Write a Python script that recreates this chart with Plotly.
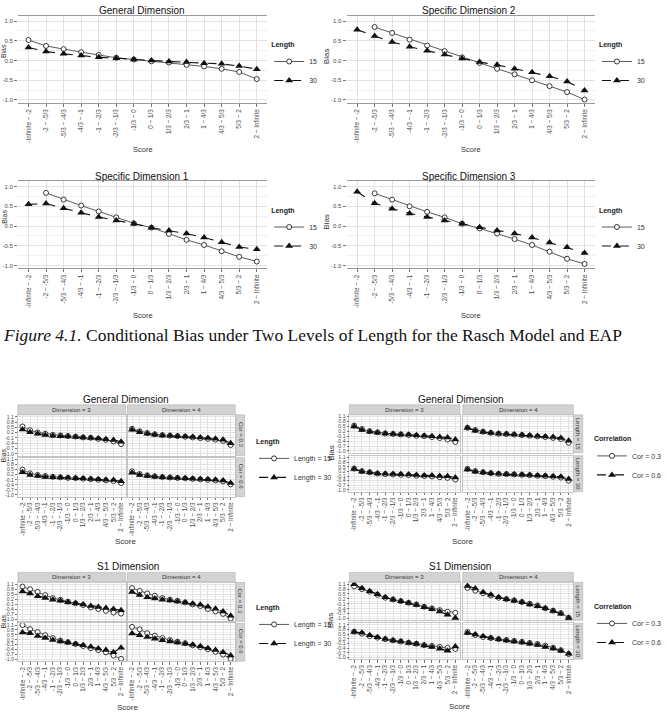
import plotly.graph_objects as go

W, H = 667, 719

CATS = ["-Infinite ~ -2", "-2 ~ -5/3", "-5/3 ~ -4/3", "-4/3 ~ -1", "-1 ~ -2/3",
        "-2/3 ~ -1/3", "-1/3 ~ 0", "0 ~ 1/3", "1/3 ~ 2/3", "2/3 ~ 1",
        "1 ~ 4/3", "4/3 ~ 5/3", "5/3 ~ 2", "2 ~ Infinite"]

# ---- Figure 4.1: Rasch model / EAP, two test lengths ----
GENERAL_L15 = [0.52, 0.37, 0.29, 0.21, 0.14, 0.07, 0.025, -0.02, -0.05, -0.11, -0.15, -0.21, -0.29, -0.47]
GENERAL_L30 = [0.33, 0.23, 0.17, 0.125, 0.08, 0.06, 0.025, 0.0, -0.025, -0.04, -0.07, -0.085, -0.14, -0.22]
SPEC2_L15 = [None, 0.85, 0.70, 0.53, 0.38, 0.24, 0.08, -0.06, -0.21, -0.35, -0.50, -0.65, -0.80, -0.99]
SPEC2_L30 = [0.78, 0.62, 0.47, 0.35, 0.245, 0.15, 0.05, -0.04, -0.11, -0.21, -0.30, -0.40, -0.53, -0.76]
SPEC1_L15 = [None, 0.84, 0.67, 0.52, 0.37, 0.22, 0.07, -0.04, -0.20, -0.35, -0.48, -0.64, -0.78, -0.90]
SPEC1_L30 = [0.55, 0.57, 0.45, 0.34, 0.23, 0.14, 0.06, -0.04, -0.11, -0.19, -0.29, -0.41, -0.53, -0.59]
SPEC3_L15 = [None, 0.83, 0.67, 0.50, 0.36, 0.22, 0.06, -0.06, -0.19, -0.33, -0.48, -0.65, -0.83, -0.96]
SPEC3_L30 = [0.87, 0.58, 0.44, 0.32, 0.23, 0.14, 0.06, -0.03, -0.11, -0.19, -0.29, -0.42, -0.54, -0.68]

# ---- faceted figures: dimension x correlation x length ----
GEN_D3_C3_L15 = [0.55, 0.34, 0.21, 0.14, 0.07, 0.04, 0.01, -0.02, -0.07, -0.09, -0.15, -0.21, -0.30, -0.45]
GEN_D3_C6_L15 = [0.50, 0.28, 0.18, 0.12, 0.07, 0.04, 0.01, -0.01, -0.04, -0.07, -0.10, -0.14, -0.18, -0.30]
GEN_D3_C3_L30 = [0.38, 0.22, 0.14, 0.06, 0.02, 0.00, -0.02, -0.04, -0.08, -0.10, -0.13, -0.18, -0.22, -0.32]
GEN_D3_C6_L30 = [0.35, 0.18, 0.12, 0.06, 0.04, 0.03, 0.01, -0.01, -0.03, -0.06, -0.07, -0.10, -0.12, -0.20]
GEN_D4_C3_L15 = [0.42, 0.28, 0.18, 0.11, 0.06, 0.03, 0.00, -0.03, -0.07, -0.11, -0.15, -0.20, -0.27, -0.50]
GEN_D4_C6_L15 = [0.40, 0.24, 0.16, 0.10, 0.05, 0.03, 0.00, -0.02, -0.05, -0.08, -0.11, -0.15, -0.20, -0.38]
GEN_D4_C3_L30 = [0.36, 0.22, 0.14, 0.08, 0.04, 0.02, 0.00, -0.02, -0.05, -0.08, -0.11, -0.15, -0.20, -0.40]
GEN_D4_C6_L30 = [0.32, 0.18, 0.12, 0.07, 0.04, 0.02, 0.00, -0.02, -0.04, -0.06, -0.08, -0.11, -0.15, -0.30]

S1_D3_C3_L15 = [0.96, 0.80, 0.64, 0.45, 0.27, 0.17, 0.06, -0.04, -0.14, -0.28, -0.38, -0.49, -0.59, -0.65]
S1_D3_C6_L15 = [1.10, 0.85, 0.67, 0.48, 0.30, 0.15, 0.05, -0.06, -0.18, -0.32, -0.43, -0.57, -0.77, -0.97]
S1_D3_C3_L30 = [0.67, 0.54, 0.38, 0.28, 0.18, 0.11, 0.03, -0.04, -0.11, -0.20, -0.26, -0.32, -0.38, -0.45]
S1_D3_C6_L30 = [0.65, 0.60, 0.43, 0.30, 0.19, 0.09, 0.03, -0.06, -0.13, -0.23, -0.33, -0.43, -0.57, -0.29]
S1_D4_C3_L15 = [0.87, 0.70, 0.55, 0.41, 0.27, 0.18, 0.11, 0.01, -0.10, -0.20, -0.38, -0.52, -0.67, -0.95]
S1_D4_C6_L15 = [0.99, 0.84, 0.60, 0.45, 0.30, 0.18, 0.08, -0.01, -0.14, -0.25, -0.38, -0.54, -0.71, -0.97]
S1_D4_C3_L30 = [0.64, 0.45, 0.32, 0.25, 0.18, 0.13, 0.07, 0.01, -0.06, -0.13, -0.24, -0.37, -0.53, -0.78]
S1_D4_C6_L30 = [0.58, 0.48, 0.37, 0.26, 0.17, 0.09, 0.03, -0.04, -0.11, -0.20, -0.32, -0.42, -0.56, -0.76]

DIMS = [3, 4]
CORS = [0.3, 0.6]
LENS = [15, 30]
GEN_DATA = {(3, 0.3, 15): GEN_D3_C3_L15, (3, 0.6, 15): GEN_D3_C6_L15,
            (3, 0.3, 30): GEN_D3_C3_L30, (3, 0.6, 30): GEN_D3_C6_L30,
            (4, 0.3, 15): GEN_D4_C3_L15, (4, 0.6, 15): GEN_D4_C6_L15,
            (4, 0.3, 30): GEN_D4_C3_L30, (4, 0.6, 30): GEN_D4_C6_L30}
S1_DATA = {(3, 0.3, 15): S1_D3_C3_L15, (3, 0.6, 15): S1_D3_C6_L15,
           (3, 0.3, 30): S1_D3_C3_L30, (3, 0.6, 30): S1_D3_C6_L30,
           (4, 0.3, 15): S1_D4_C3_L15, (4, 0.6, 15): S1_D4_C6_L15,
           (4, 0.3, 30): S1_D4_C3_L30, (4, 0.6, 30): S1_D4_C6_L30}

TOP_YTICKS = [-1.0, -0.5, 0.0, 0.5, 1.0]
FACET_YTICKS = [-1.0, -0.7, -0.4, -0.1, 0.2, 0.5, 0.8, 1.1]

fig = go.Figure()
annotations = []
shapes = []
legends = {}
counter = [0]

GRID = '#e2e2e2'
MINOR = '#f1f1f1'
TICKC = '#4a4a4a'


def new_axes(x0, x1, y0, y1, xkw, ykw):
    counter[0] += 1
    n = counter[0]
    s = '' if n == 1 else str(n)
    fig.update_layout(**{
        'xaxis' + s: dict(domain=[x0 / W, x1 / W], anchor='y' + s, **xkw),
        'yaxis' + s: dict(domain=[1 - y1 / H, 1 - y0 / H], anchor='x' + s, **ykw),
    })
    return 'x' + s, 'y' + s


def txt(x, y, s, size, angle=0, color='#222', xanchor='center', yanchor='middle', family=None):
    f = dict(size=size, color=color)
    if family:
        f['family'] = family
    annotations.append(dict(x=x / W, y=1 - y / H, xref='paper', yref='paper', text=s,
                            showarrow=False, font=f, textangle=angle,
                            xanchor=xanchor, yanchor=yanchor))


def legend_cfg(x, y, title):
    return dict(x=x / W, y=1 - y / H, xanchor='left', yanchor='top',
                bgcolor='rgba(0,0,0,0)', borderwidth=0,
                font=dict(size=7, color='#333'),
                title=dict(text='<b>%s</b>' % title, font=dict(size=7, color='#222')),
                tracegroupgap=0, itemclick=False, itemdoubleclick=False)


def add_pair(xa, ya, v1, v2, n1, n2, leg, show, msize):
    fig.add_trace(go.Scatter(
        x=CATS, y=v1, mode='lines+markers', name=n1, xaxis=xa, yaxis=ya,
        legend=leg, showlegend=show, connectgaps=False,
        line=dict(color='#5a5a5a', width=1),
        marker=dict(symbol='circle', size=msize, color='white',
                    line=dict(color='#222', width=0.9))))
    fig.add_trace(go.Scatter(
        x=CATS, y=v2, mode='lines+markers', name=n2, xaxis=xa, yaxis=ya,
        legend=leg, showlegend=show,
        line=dict(color='#111', width=1.1, dash='dash'),
        marker=dict(symbol='triangle-up', size=msize + 2, color='#111',
                    line=dict(width=0))))


def cat_axis(**extra):
    d = dict(type='category', categoryorder='array', categoryarray=CATS,
             tickmode='array', tickvals=CATS, ticktext=CATS,
             range=[-0.6, 13.6], tickangle=-90,
             tickfont=dict(size=6.3, color=TICKC),
             tickcolor='#777', tickwidth=0.8,
             showgrid=True, gridcolor=GRID,
             showline=True, mirror=True,
             zeroline=False, fixedrange=True)
    d.update(extra)
    return d


# ---------------- Figure 4.1 (four single panels) ----------------
TOP = [
    ("General Dimension", GENERAL_L15, GENERAL_L30, 19, 283, 15, 102, 150, 10, 4.5),
    ("Specific Dimension 2", SPEC2_L15, SPEC2_L30, 367, 630, 15, 102, 497, 10, 346),
    ("Specific Dimension 1", SPEC1_L15, SPEC1_L30, 19, 283, 181, 268, 150, 176, 4.5),
    ("Specific Dimension 3", SPEC3_L15, SPEC3_L30, 367, 630, 181, 268, 497, 176, 346),
]
leg_i = 0
for (title, v15, v30, x0, x1, y0, y1, tx, ty, bx) in TOP:
    xkw = cat_axis(ticks='outside', ticklen=3, gridwidth=0.8,
                   linecolor='#9a9a9a', linewidth=1)
    ykw = dict(range=[-1.07, 1.13], tickvals=TOP_YTICKS,
               ticktext=['%.1f' % v for v in TOP_YTICKS],
               tickfont=dict(size=6, color=TICKC), ticks='outside', ticklen=3,
               tickcolor='#777', tickwidth=0.8, showgrid=True, gridcolor=GRID,
               gridwidth=0.8, zeroline=False, showline=False, fixedrange=True,
               minor=dict(tickvals=[-0.75, -0.25, 0.25, 0.75], showgrid=True,
                          gridcolor=MINOR, ticks=''))
    xa, ya = new_axes(x0, x1, y0, y1, xkw, ykw)
    leg_i += 1
    lname = 'legend' if leg_i == 1 else 'legend%d' % leg_i
    legends[lname] = legend_cfg(x1 + 2, y0 + 22, 'Length')
    add_pair(xa, ya, v15, v30, '15', '30', lname, True, 5)
    txt(tx, ty, title, 10, color='#111')
    txt((x0 + x1) / 2, y1 + 47, 'Score', 7.5, color='#333')
    if bx < 10:
        # left-edge label sits between the 0.5 and 0.0 tick labels
        txt(bx, y0 + 35, 'Bias', 7, angle=-90, color='#333')
    else:
        txt(bx, (y0 + y1) / 2 - 3, 'Bias', 8, angle=-90, color='#333')

# caption
txt(1, 335, '<i>Figure 4.1.</i> Conditional Bias under Two Levels of Length for the Rasch Model and EAP',
    17.5, color='#111', xanchor='left', family='Liberation Serif, Times New Roman, serif')

# ---------------- faceted figures ----------------
BOTTOM = [
    dict(title='General Dimension', data=GEN_DATA, by='cor', ltitle='Length',
         cols=[(19, 133), (135, 249)], rows=[(415, 456), (458, 497)], strip=(405, 415),
         rstrip=(250, 259), tpos=(133, 400), bias=4, score=(133, 542)),
    dict(title='General Dimension', data=GEN_DATA, by='len', ltitle='Correlation',
         cols=[(370, 487), (490, 607)], rows=[(415, 453), (456, 492)], strip=(405, 415),
         rstrip=(607, 617), tpos=(488, 400), bias=351, score=(490, 542)),
    dict(title='S1 Dimension', data=S1_DATA, by='cor', ltitle='Length',
         cols=[(19, 133), (135, 249)], rows=[(583, 622), (624, 662)], strip=(573, 583),
         rstrip=(250, 259), tpos=(135, 567), bias=4, score=(135, 708)),
    dict(title='S1 Dimension', data=S1_DATA, by='len', ltitle='Correlation',
         cols=[(370, 487), (490, 607)], rows=[(583, 621), (624, 660)], strip=(573, 583),
         rstrip=(607, 617), tpos=(487, 567), bias=350, score=(487, 707)),
]
minor_facet = [v + 0.15 for v in FACET_YTICKS[:-1]]
for ch in BOTTOM:
    leg_i += 1
    lname = 'legend%d' % leg_i
    legends[lname] = legend_cfg(ch['rstrip'][1] + 10, (ch['rows'][0][0] + ch['rows'][1][1]) / 2 - 21,
                                ch['ltitle'])
    first = True
    for r in range(2):
        ry0, ry1 = ch['rows'][r]
        for c in range(2):
            cx0, cx1 = ch['cols'][c]
            dim = DIMS[c]
            xkw = cat_axis(showticklabels=(r == 1), ticks='outside' if r == 1 else '',
                           ticklen=2.5, gridwidth=0.7, linecolor='#c4c4c4', linewidth=0.8)
            ykw = dict(range=[-1.11, 1.21], tickvals=FACET_YTICKS,
                       ticktext=['%.1f' % v for v in FACET_YTICKS],
                       tickfont=dict(size=5.2, color=TICKC),
                       showticklabels=(c == 0), ticks='outside' if c == 0 else '',
                       ticklen=2, tickcolor='#777', tickwidth=0.8,
                       showgrid=True, gridcolor=GRID, gridwidth=0.7,
                       showline=True, mirror=True, linecolor='#c4c4c4', linewidth=0.8,
                       zeroline=False, fixedrange=True,
                       minor=dict(tickvals=minor_facet, showgrid=True, gridcolor=MINOR,
                                  ticks=''))
            xa, ya = new_axes(cx0, cx1, ry0, ry1, xkw, ykw)
            d = ch['data']
            if ch['by'] == 'cor':
                cor = CORS[r]
                v1, v2 = d[(dim, cor, 15)], d[(dim, cor, 30)]
                n1, n2 = 'Length = 15', 'Length = 30'
                rlabel = 'Cor = %s' % cor
            else:
                ln = LENS[r]
                v1, v2 = d[(dim, 0.3, ln)], d[(dim, 0.6, ln)]
                n1, n2 = 'Cor = 0.3', 'Cor = 0.6'
                rlabel = 'Length = %d' % ln
            add_pair(xa, ya, v1, v2, n1, n2, lname, first, 5)
            first = False
            if r == 0:
                shapes.append(dict(type='rect', xref='paper', yref='paper',
                                   x0=cx0 / W, x1=cx1 / W,
                                   y0=1 - ch['strip'][1] / H, y1=1 - ch['strip'][0] / H,
                                   fillcolor='#d3d3d3', line=dict(color='#b0b0b0', width=0.6),
                                   layer='below'))
                txt((cx0 + cx1) / 2, (ch['strip'][0] + ch['strip'][1]) / 2,
                    'Dimension = %d' % dim, 6, color='#333')
            if c == 1:
                shapes.append(dict(type='rect', xref='paper', yref='paper',
                                   x0=ch['rstrip'][0] / W, x1=ch['rstrip'][1] / W,
                                   y0=1 - ry1 / H, y1=1 - ry0 / H,
                                   fillcolor='#d3d3d3', line=dict(color='#b0b0b0', width=0.6),
                                   layer='below'))
                txt((ch['rstrip'][0] + ch['rstrip'][1]) / 2, (ry0 + ry1) / 2,
                    rlabel, 6, angle=90, color='#333')
    txt(ch['tpos'][0], ch['tpos'][1], ch['title'], 10, color='#111')
    txt(ch['score'][0], ch['score'][1], 'Score', 8, color='#333')
    txt(ch['bias'], (ch['rows'][0][0] + ch['rows'][1][1]) / 2, 'Bias',
        7 if ch['bias'] < 10 else 8, angle=-90, color='#333')

fig.update_layout(
    width=W, height=H, autosize=False,
    margin=dict(l=0, r=0, t=0, b=0),
    paper_bgcolor='white', plot_bgcolor='white',
    font=dict(family='Liberation Sans, Arial, sans-serif', color='#333'),
    annotations=annotations, shapes=shapes,
    **legends,
)

fig.write_html('out.html', config={'displayModeBar': False})
